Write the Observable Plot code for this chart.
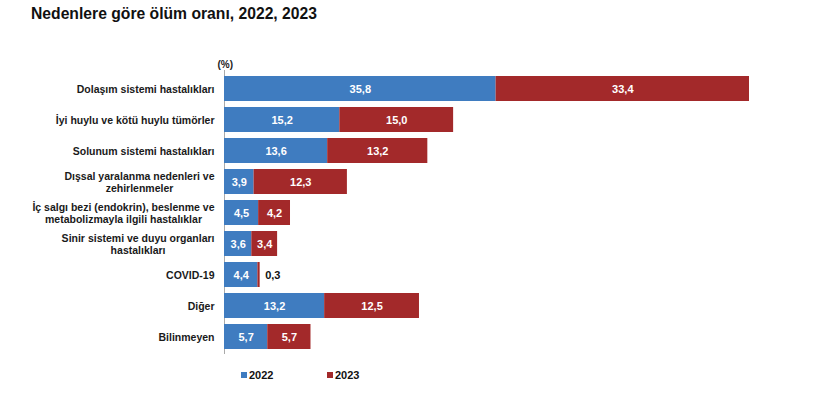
<!DOCTYPE html>
<html>
<head>
<meta charset="utf-8">
<script src="https://cdn.jsdelivr.net/npm/d3@7"></script>
<script src="https://cdn.jsdelivr.net/npm/@observablehq/plot@0.6"></script>
<style>
  html, body { margin: 0; padding: 0; background: #fff; }
  body { width: 820px; height: 400px; overflow: hidden; font-family: "Liberation Sans", Arial, sans-serif; }
  #title { height: 36px; box-sizing: border-box; padding: 5px 0 0 31px; font-weight: bold; font-size: 15.7px; color: #111; line-height: 18px; }
  #chart { height: 330px; }
  #legend { height: 34px; position: relative; font-weight: bold; font-size: 11px; color: #111; }
  .lg { position: absolute; top: 3px; display: flex; align-items: center; }
  .sw { width: 6px; height: 6px; margin-right: 2px; display: inline-block; }
</style>
</head>
<body>
<div id="title">Nedenlere göre ölüm oranı, 2022, 2023</div>
<div id="chart"></div>
<div id="legend"></div>
<script>
const categories = [
  "Dolaşım sistemi hastalıkları",
  "İyi huylu ve kötü huylu tümörler",
  "Solunum sistemi hastalıkları",
  "Dışsal yaralanma nedenleri ve\nzehirlenmeler",
  "İç salgı bezi (endokrin), beslenme ve\nmetabolizmayla ilgili hastalıklar",
  "Sinir sistemi ve duyu organları\nhastalıkları",
  "COVID-19",
  "Diğer",
  "Bilinmeyen"
];
const years = ["2022", "2023"];
const v2022 = [35.8, 15.2, 13.6, 3.9, 4.5, 3.6, 4.4, 13.2, 5.7];
const v2023 = [33.4, 15.0, 13.2, 12.3, 4.2, 3.4, 0.3, 12.5, 5.7];
const colors = ["#3f7cc0", "#a3292a"];

const data = [];
categories.forEach((c, i) => {
  data.push({cause: c, year: years[0], value: v2022[i]});
  data.push({cause: c, year: years[1], value: v2023[i]});
});
const fmt = v => v.toFixed(1).replace(".", ",");

const FONT = "'Liberation Sans', Arial, sans-serif";
const LABEL_SIZE = 10.5;
const ctx = document.createElement("canvas").getContext("2d");
ctx.font = `bold ${LABEL_SIZE}px ${FONT}`;
const labelMarks = categories.map(c => {
  const w = Math.max(...c.split("\n").map(l => ctx.measureText(l).width));
  return Plot.text([c], {
    y: d => d, text: d => d, frameAnchor: "left", textAnchor: "middle",
    dx: -(10 + w / 2), lineHeight: 1.15, fontSize: LABEL_SIZE, fontWeight: "bold", fill: "#1a1a1a"
  });
});

const chart = Plot.plot({
  width: 820,
  height: 330,
  marginLeft: 224,
  marginRight: 27,
  marginTop: 34,
  marginBottom: 12,
  style: {fontFamily: FONT, background: "#fff"},
  x: {domain: [0, 75], axis: null},
  y: {domain: categories, axis: null, paddingInner: 0.2, paddingOuter: 0.08},
  color: {domain: years, range: colors},
  marks: [
    Plot.ruleX([0], {stroke: "#aaa", strokeWidth: 1}),
    Plot.barX(data, {x: "value", y: "cause", fill: "year", z: "year", order: years}),
    Plot.text(data, Plot.stackX({x: "value", y: "cause", z: "year", order: years,
      text: d => d.value >= 1 ? fmt(d.value) : "", fill: "white", fontSize: 11, fontWeight: "bold"})),
    Plot.text(data, Plot.stackX2({x: "value", y: "cause", z: "year", order: years,
      text: d => d.value < 1 ? fmt(d.value) : "", fill: "#111", textAnchor: "start", dx: 5, fontSize: 11, fontWeight: "bold"})),
    Plot.text(["(%)"], {x: 0, text: d => d, frameAnchor: "top", dy: -10, dx: -7, textAnchor: "start", fontSize: 10, fontWeight: "bold", fill: "#222"}),
    ...labelMarks
  ]
});
document.getElementById("chart").appendChild(chart);

const legend = document.getElementById("legend");
const lefts = [241, 327];
years.forEach((y, i) => {
  const el = document.createElement("div");
  el.className = "lg";
  el.style.left = lefts[i] + "px";
  el.innerHTML = `<span class="sw" style="background:${colors[i]}"></span><span>${y}</span>`;
  legend.appendChild(el);
});
</script>
</body>
</html>
